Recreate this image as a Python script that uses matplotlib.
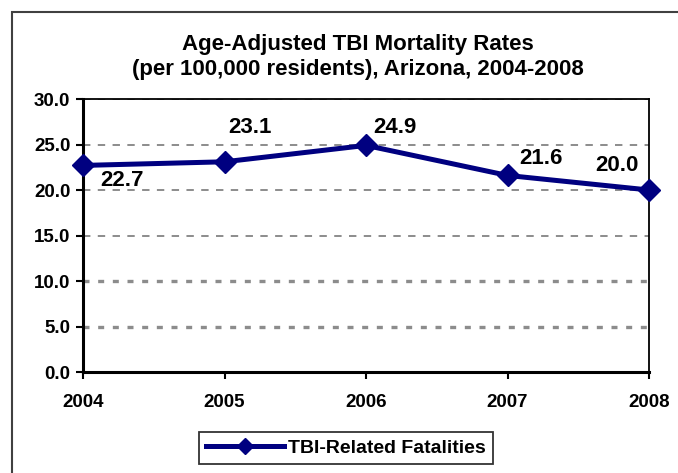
import numpy as np
import matplotlib
matplotlib.use("Agg")
import matplotlib.pyplot as plt
from matplotlib.patches import Rectangle

plt.rcParams["font.family"] = ["Liberation Sans", "DejaVu Sans"]
plt.rcParams["font.weight"] = "bold"

########## DATA ##########
years = ["2004", "2005", "2006", "2007", "2008"]
rates = [22.7, 23.1, 24.9, 21.6, 20.0]
series_name = "TBI-Related Fatalities"
title_lines = ["Age-Adjusted TBI Mortality Rates",
               "(per 100,000 residents), Arizona, 2004-2008"]
y_ticks = [0, 5, 10, 15, 20, 25, 30]
# label offsets in points (dx, dy)
label_offsets = [(28, -11), (18, 25), (21, 13), (24, 12), (-23, 18)]
##########################

W, H = 678, 473
fig = plt.figure(figsize=(W / 100, H / 100), dpi=100)
ax = fig.add_axes([83 / W, 1 - 372 / H, (649 - 83) / W, (372 - 99) / H])

# outer chart border (cut off on right and bottom like the source)
fig.patches.append(
    Rectangle((12 / W, -0.1), 1.2, 1 - 12 / H + 0.1, transform=fig.transFigure,
              fill=False, edgecolor="#404040", linewidth=1.5)
)

x = np.arange(len(years))

# gridlines
for yv in y_ticks[1:]:
    if yv in (5, 10):
        ax.axhline(yv, color="#8c8c8c", linewidth=2.4, linestyle=(0, (1.8, 2.6)), zorder=1)
    else:
        ax.axhline(yv, color="#8c8c8c", linewidth=1.4, linestyle=(0, (3.8, 3.8)), zorder=1)

ax.plot(x, rates, color="#000080", linewidth=3.6, marker="D", markersize=11,
        label=series_name, zorder=3, clip_on=False)

for xi, v, (dx, dy) in zip(x, rates, label_offsets):
    ax.annotate(f"{v:.1f}", (xi, v), xytext=(dx, dy), textcoords="offset points",
                ha="center", va="center", fontsize=16, fontweight="bold")

ax.set_xlim(0, len(years) - 1)
ax.set_ylim(0, 30)
ax.set_xticks(x)
ax.set_xticklabels(years)
ax.set_yticks(y_ticks)
ax.set_yticklabels([f"{t:.1f}" for t in y_ticks])
ax.tick_params(axis="both", direction="out", length=5, width=1.5, labelsize=13.5)
ax.tick_params(axis="x", pad=11)
ax.tick_params(axis="y", pad=4)

for side in ["left", "bottom"]:
    ax.spines[side].set_linewidth(2.2)
for side in ["top", "right"]:
    ax.spines[side].set_linewidth(1.3)

for i, line in enumerate(title_lines):
    fig.text(358 / W, 1 - (50 + 25 * i) / H, line, ha="center", va="baseline",
             fontsize=16, fontweight="bold")

leg = ax.legend(loc="center", bbox_to_anchor=(346 / W, 1 - 448 / H),
                bbox_transform=fig.transFigure, fontsize=14, frameon=True,
                fancybox=False, handlelength=4.0, handletextpad=0.2,
                borderpad=0.35, markerscale=0.75)
leg.get_frame().set_edgecolor("black")
leg.get_frame().set_linewidth(1.3)

plt.savefig("out.png", dpi=100)
